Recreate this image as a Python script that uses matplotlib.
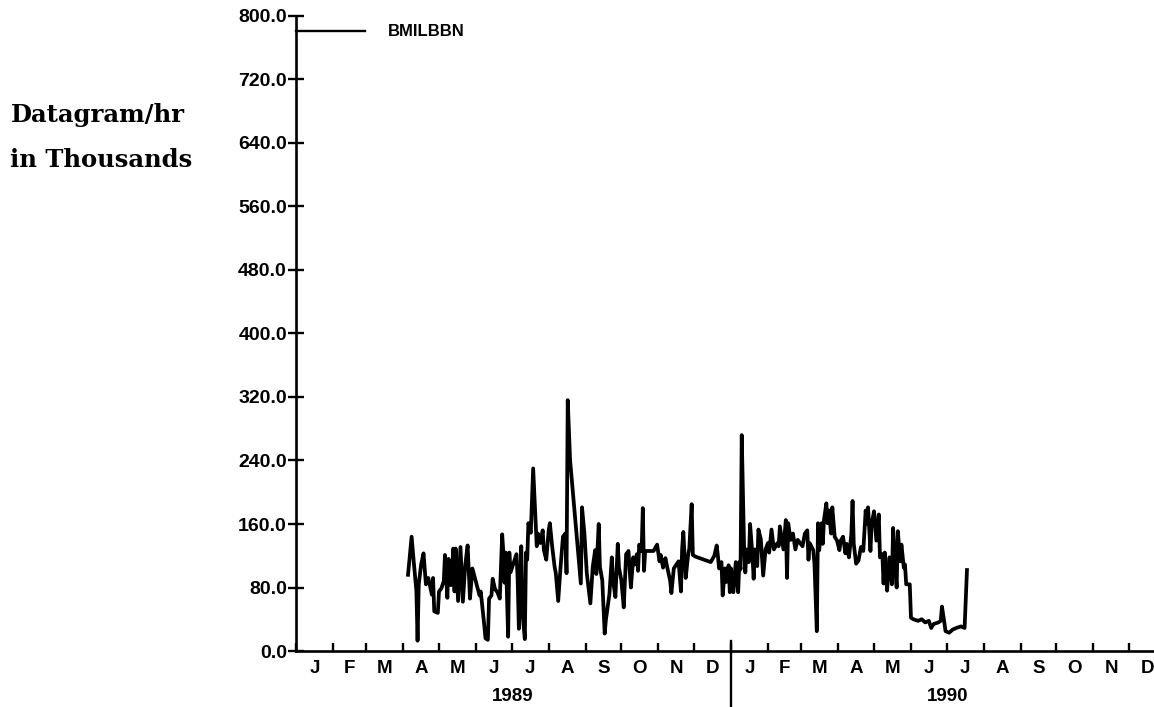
import numpy as np
import pandas as pd
from matplotlib import pyplot as plt
import matplotlib.transforms as mtransforms

plt.rcParams['font.family'] = ['Liberation Sans', 'DejaVu Sans']

# Daily datagram rate (thousands per hour); day numbers count from 1 Jan 1989
day = [94, 97, 99, 101, 102, 103, 105, 107, 109, 111, 114, 115, 116, 119, 120, 122,
       124, 125, 127, 128, 130, 132, 133, 134, 136, 138, 140, 142, 144, 146, 148, 151,
       154, 155, 158, 159, 161, 162, 164, 165, 167, 169, 171, 173, 174, 175, 176, 178,
       179, 180, 183, 185, 186, 187, 189, 190, 192, 193, 194, 195, 197, 199, 201, 202,
       203, 205, 207, 208, 210, 212, 213, 215, 217, 218, 220, 222, 224, 226, 227, 228,
       230, 239, 240, 242, 244, 246, 247, 249, 251, 252, 254, 255, 257, 259, 260, 263,
       265, 266, 268, 270, 271, 273, 275, 277, 279, 280, 281, 283, 284, 286, 287, 288,
       290, 291, 292, 293, 296, 300, 303, 305, 306, 308, 310, 311, 314, 315, 317, 321,
       323, 324, 325, 327, 329, 330, 332, 333, 335, 348, 351, 353, 354, 355, 357, 358,
       360, 361, 363, 364, 365, 367, 369, 371, 372, 373, 374, 376, 377, 378, 380, 381,
       383, 384, 385, 387, 388, 390, 392, 394, 396, 397, 399, 401, 404, 405, 406, 409,
       411, 412, 413, 415, 417, 419, 421, 423, 425, 427, 429, 430, 431, 434, 435, 437,
       438, 439, 441, 442, 443, 445, 446, 447, 449, 450, 452, 454, 456, 457, 459, 461,
       462, 464, 466, 467, 468, 470, 472, 474, 476, 478, 479, 480, 482, 483, 485, 487,
       489, 490, 492, 493, 494, 496, 497, 498, 500, 501, 503, 504, 505, 507, 508, 510,
       511, 512, 515, 516, 518, 522, 525, 528, 531, 533, 535, 539, 541, 542, 544, 545,
       548, 551, 554, 558, 561, 563]
kdg = [96, 144, 109, 76, 13, 84, 109, 123, 84, 92, 71, 92, 50, 48, 75, 79,
       88, 121, 67, 116, 83, 129, 75, 129, 63, 131, 62, 108, 133, 66, 104, 87,
       70, 75, 32, 16, 14, 66, 70, 91, 78, 74, 66, 147, 124, 86, 124, 18,
       124, 99, 113, 122, 90, 28, 132, 49, 15, 124, 115, 161, 149, 230, 165, 132,
       148, 136, 152, 127, 115, 152, 161, 131, 106, 98, 63, 106, 144, 148, 98, 316,
       240, 85, 181, 148, 98, 72, 60, 106, 127, 97, 160, 106, 89, 22, 39, 72,
       118, 89, 68, 135, 105, 89, 55, 122, 126, 101, 80, 118, 109, 122, 101, 134,
       126, 180, 101, 126, 126, 126, 134, 113, 121, 105, 117, 109, 88, 73, 104, 113,
       75, 129, 150, 92, 121, 129, 185, 121, 119, 112, 120, 133, 120, 104, 112, 70,
       104, 87, 108, 74, 104, 74, 112, 74, 112, 103, 272, 128, 99, 128, 112, 160,
       120, 91, 128, 107, 153, 141, 95, 128, 136, 124, 153, 128, 136, 132, 157, 128,
       165, 92, 161, 140, 148, 128, 140, 136, 132, 148, 152, 115, 136, 127, 111, 25,
       161, 127, 161, 135, 165, 186, 161, 177, 148, 181, 144, 139, 127, 139, 144, 123,
       135, 118, 148, 189, 135, 110, 114, 131, 126, 177, 160, 181, 126, 160, 176, 139,
       172, 118, 122, 85, 124, 76, 101, 118, 84, 155, 101, 80, 151, 113, 134, 105,
       109, 84, 84, 42, 40, 38, 40, 36, 38, 29, 34, 36, 38, 56, 36, 25,
       23, 27, 29, 31, 29, 102]

series_name = 'BMILBBN'
month_letters = ['J', 'F', 'M', 'A', 'M', 'J', 'J', 'A', 'S', 'O', 'N', 'D']
years = [1989, 1990]
y_ticks = np.arange(0, 801, 80)

start = pd.Timestamp('1989-01-01')
dates = start + pd.to_timedelta(day, unit='D')

fig = plt.figure(figsize=(11.54, 7.07), dpi=100)
ax = fig.add_axes([0.2565, 0.0792, 0.7539, 0.8982])

ax.plot(dates, kdg, color='black', lw=2.7, solid_joinstyle='round')

ax.set_xlim(start, pd.Timestamp('1991-01-01'))
ax.set_ylim(0, 800)

for side in ['top', 'right']:
    ax.spines[side].set_visible(False)
for side in ['left', 'bottom']:
    ax.spines[side].set_linewidth(1.9)

# y axis: ticks crossing the spine, labels with one decimal
ax.set_yticks(y_ticks)
ax.set_yticklabels([f'{v:.1f}' for v in y_ticks], fontweight='bold')
ax.tick_params(axis='y', direction='inout', length=11, width=1.7,
               labelsize=14, pad=1)

# x axis: month boundaries as inward ticks, letters centred in each month
month_starts = pd.date_range('1989-01-01', '1991-01-01', freq='MS')
ax.set_xticks(month_starts)
ax.set_xticklabels([])
ax.tick_params(axis='x', direction='in', length=6, width=1.7)

trans = mtransforms.blended_transform_factory(ax.transData, ax.transAxes)
for m0, m1 in zip(month_starts[:-1], month_starts[1:]):
    mid = m0 + (m1 - m0) / 2
    ax.text(mid, -0.027, month_letters[m0.month - 1], transform=trans,
            ha='center', va='center', fontsize=13.5, fontweight='bold')

for yr in years:
    mid = pd.Timestamp(f'{yr}-07-02')
    ax.text(mid, -0.072, str(yr), transform=trans, ha='center', va='center',
            fontsize=13.5, fontweight='bold')

# divider between the two years
ax.plot([pd.Timestamp('1990-01-01')] * 2, [0.016, -0.095], transform=trans,
        color='black', lw=1.7, clip_on=False)

# legend line and series name
ax.plot([0, 0.079], [0.976, 0.976], transform=ax.transAxes, color='black',
        lw=1.7, clip_on=False)
ax.text(0.1057, 0.976, series_name, transform=ax.transAxes, ha='left',
        va='center', fontsize=12, fontweight='bold')

# axis title
fig.text(0.009, 1 - 115 / 707, 'Datagram/hr', ha='left', va='center',
         fontsize=17.5, fontweight='bold', family='DejaVu Serif')
fig.text(0.009, 1 - 160 / 707, 'in Thousands', ha='left', va='center',
         fontsize=17.5, fontweight='bold', family='DejaVu Serif')

fig.savefig('out.png', dpi=100)
